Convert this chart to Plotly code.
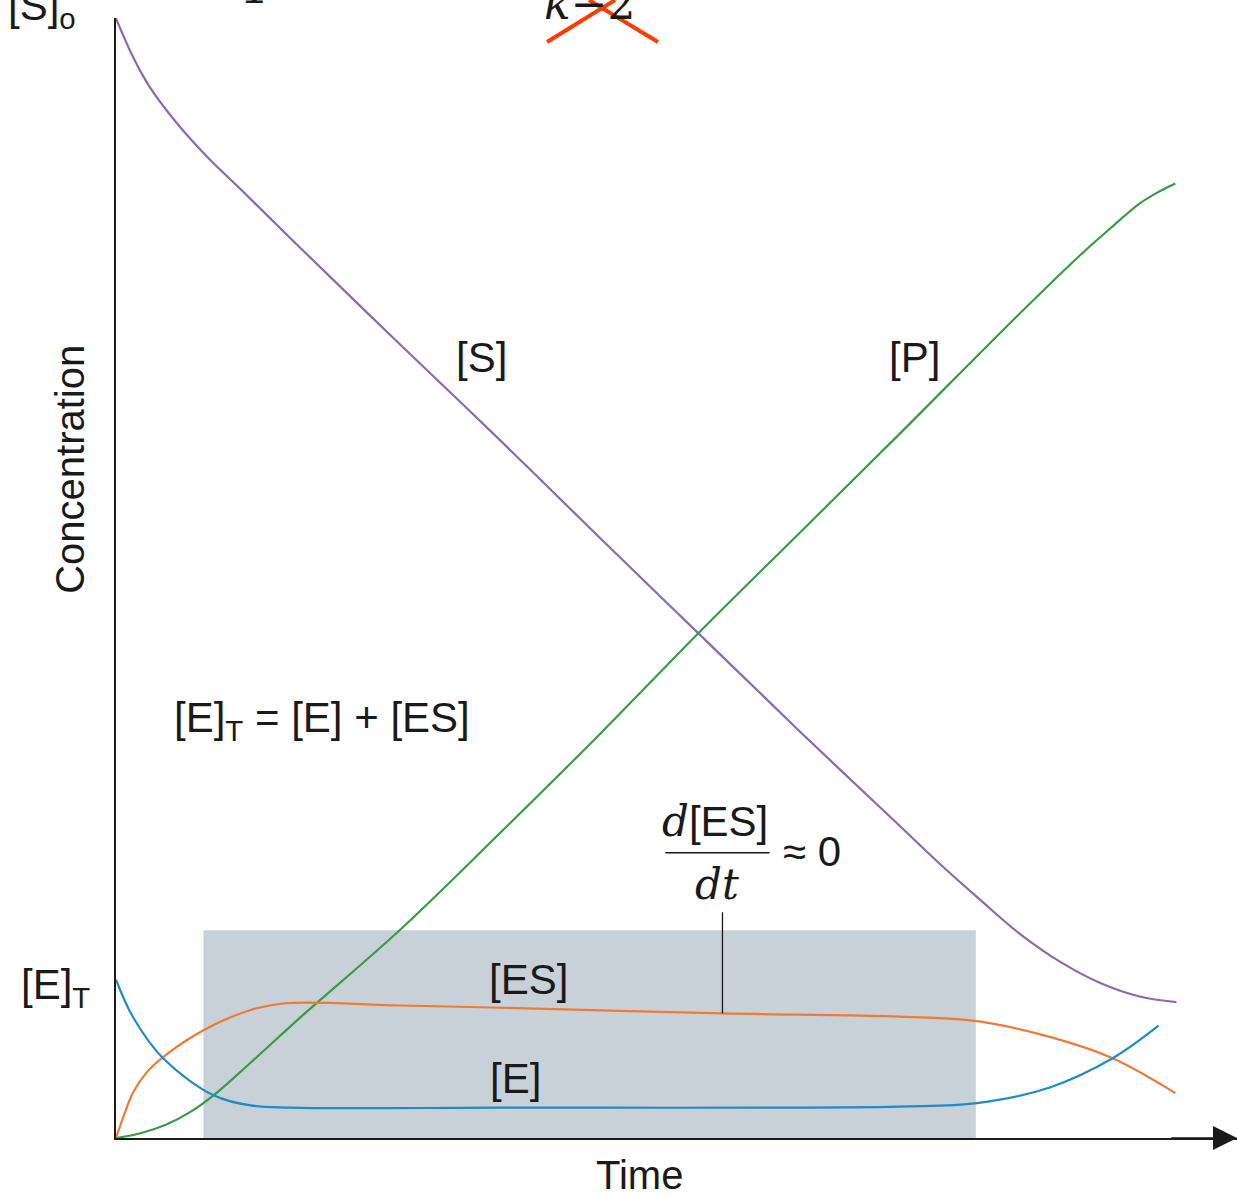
import plotly.graph_objects as go

# ---- data (time in arbitrary units, concentration in arbitrary units) ----
t_S = [0, 0.15, 0.30, 0.54, 0.81, 1.11, 1.64, 2.53, 3.43, 4.32, 5.21, 6.10, 6.99, 7.35, 7.71, 8.06, 8.42, 8.78, 9.13, 9.46]
c_S = [9.97, 9.63, 9.36, 9.04, 8.74, 8.45, 7.93, 7.07, 6.21, 5.34, 4.48, 3.62, 2.78, 2.44, 2.12, 1.82, 1.57, 1.38, 1.26, 1.21]

t_P = [0, 0.21, 0.45, 0.66, 0.87, 1.20, 1.64, 2.53, 3.43, 4.32, 5.21, 6.10, 6.99, 8.00, 8.60, 8.87, 9.13, 9.31, 9.45]
c_P = [0, 0.04, 0.12, 0.23, 0.38, 0.67, 1.07, 1.85, 2.72, 3.60, 4.51, 5.39, 6.27, 7.28, 7.86, 8.10, 8.32, 8.43, 8.50]

t_ES = [0, 0.07, 0.15, 0.27, 0.42, 0.78, 1.20, 1.51, 2.53, 3.43, 5.41, 6.99, 7.68, 8.33, 8.89, 9.45]
c_ES = [0, 0.20, 0.40, 0.58, 0.72, 0.96, 1.14, 1.20, 1.18, 1.16, 1.11, 1.08, 1.04, 0.90, 0.71, 0.40]

t_E = [0, 0.15, 0.42, 0.87, 1.20, 1.55, 3.43, 6.99, 7.68, 8.33, 8.89, 9.30]
c_E = [1.41, 1.08, 0.71, 0.38, 0.29, 0.27, 0.27, 0.28, 0.31, 0.45, 0.71, 1.00]

steady_state = [0.78, 7.67]   # time window of the shaded steady-state region
steady_top = 1.85
E_total = 1.41
S_0 = 9.97
pointer_t = 5.41

X_MAX = 10.0
Y_MAX = 9.973

FONT = "Liberation Sans"
BLACK = "#1a1a1a"
LBL = 42

fig = go.Figure()

# shaded steady-state region
fig.add_shape(type="rect", xref="x", yref="y",
              x0=steady_state[0], x1=steady_state[1], y0=0, y1=steady_top,
              fillcolor="#c9d1d8", line_width=0, layer="below")

series = [
    ("[S]", t_S, c_S, "#8d68b3"),
    ("[P]", t_P, c_P, "#3b9b45"),
    ("[ES]", t_ES, c_ES, "#ee7a36"),
    ("[E]", t_E, c_E, "#1f8bc9"),
]
for name, t, c, col in series:
    fig.add_trace(go.Scatter(x=t, y=c, mode="lines", name=name,
                             line=dict(color=col, width=2.2, shape="spline", smoothing=1.0),
                             hoverinfo="skip", cliponaxis=False))

# pointer line from the d[ES]/dt label to the [ES] curve
fig.add_shape(type="line", xref="x", yref="y", x0=pointer_t, x1=pointer_t,
              y0=1.11, y1=2.01, line=dict(color=BLACK, width=1.3))
# fraction bar
fig.add_shape(type="line", xref="x", yref="y", x0=4.90, x1=5.83,
              y0=2.54, y1=2.54, line=dict(color=BLACK, width=1.5))


def label(text, x, y, size=LBL, **kw):
    """x, y in data units; placed with paper refs so labels outside the axes still show."""
    kw.setdefault("xanchor", "center")
    kw.setdefault("yanchor", "middle")
    fig.add_annotation(text=text, x=x / X_MAX, y=y / Y_MAX, xref="paper", yref="paper",
                       showarrow=False, font=dict(family=FONT, size=size, color=BLACK), **kw)


label("[S]", 3.26, 6.95)
label("[P]", 7.12, 6.95)
label("[E]<sub>T</sub> = [E] + [ES]", 0.50, 3.72, xanchor="left")
label("[ES]", 3.68, 1.41)
label("[E]", 3.56, 0.53)
label("<span style='font-family:DejaVu Serif'><i>d</i></span>[ES]", 5.34, 2.82)
label("<span style='font-family:DejaVu Serif'><i>dt</i></span>", 5.36, 2.26)
label("≈ 0", 6.21, 2.55)
label("[E]<sub>T</sub>", -0.54, 1.34)
label("[S]<sub>o</sub>", -0.66, 10.06)
label("Time", 4.67, -0.33, size=40)
label("Concentration", -0.41, 5.95, size=40, textangle=-90)

# x axis arrow
fig.add_annotation(x=X_MAX, y=0, ax=X_MAX - 0.6, ay=0, xref="x", yref="y",
                   axref="x", ayref="y", showarrow=True, arrowhead=2,
                   arrowsize=3, arrowwidth=1.6, arrowcolor=BLACK, text="")

# cropped fragments at the top edge of the source image
fig.add_annotation(text="1", x=(254 - 116) / 1121, y=1.0018, xref="paper", yref="paper",
                   xanchor="center", yanchor="bottom", showarrow=False,
                   font=dict(family="DejaVu Serif", size=48, color=BLACK))
fig.add_annotation(text="<i>k</i>−2", x=(590 - 116) / 1121, y=0.9884, xref="paper", yref="paper",
                   xanchor="center", yanchor="bottom", showarrow=False,
                   font=dict(family="DejaVu Serif", size=44, color=BLACK))
# red cross
fig.add_shape(type="line", xref="paper", yref="paper", x0=0.3845, y0=0.9786, x1=0.4452, y1=1.016,
              line=dict(color="#ff3b00", width=4))
fig.add_shape(type="line", xref="paper", yref="paper", x0=0.4834, y0=0.9786, x1=0.4219, y1=1.016,
              line=dict(color="#ff3b00", width=4))

fig.update_xaxes(range=[0, X_MAX], showline=True, linecolor=BLACK, linewidth=1.6,
                 showgrid=False, zeroline=False, showticklabels=False, ticks="")
fig.update_yaxes(range=[0, Y_MAX], showline=True, linecolor=BLACK, linewidth=1.6,
                 showgrid=False, zeroline=False, showticklabels=False, ticks="")

fig.update_layout(width=1237, height=1196, showlegend=False,
                  margin=dict(l=116, r=0, t=18, b=58),
                  plot_bgcolor="white", paper_bgcolor="white")

fig.write_html("out.html", config={"displayModeBar": False},
               post_script="document.body.style.margin='0px';document.body.style.overflow='hidden';")
